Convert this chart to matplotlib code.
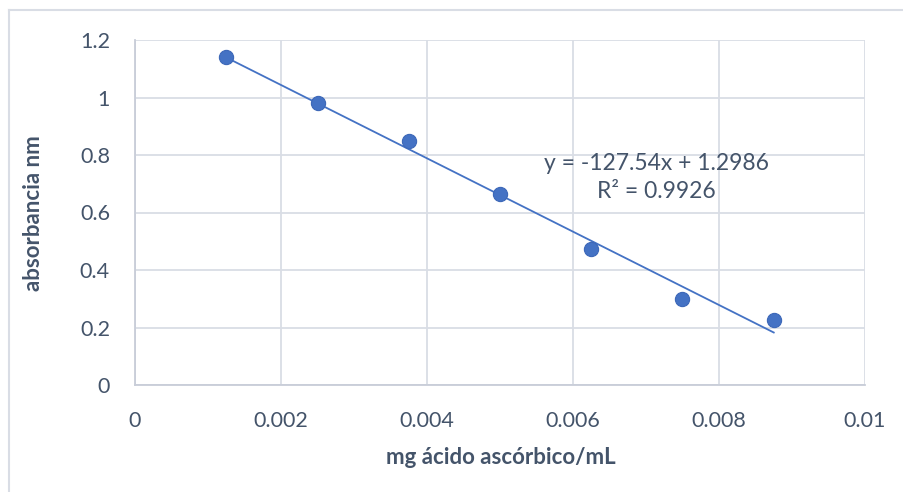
import matplotlib.pyplot as plt
import numpy as np
from matplotlib.lines import Line2D

# Data
concentration = [0.00125, 0.0025, 0.00375, 0.005, 0.00625, 0.0075, 0.00875]
absorbance = [1.141, 0.981, 0.849, 0.664, 0.473, 0.299, 0.226]

# Trendline as printed on the chart
slope = -127.54
intercept = 1.2986
r_squared = 0.9926

x_ticks = [0, 0.002, 0.004, 0.006, 0.008, 0.01]
x_tick_labels = ['0', '0.002', '0.004', '0.006', '0.008', '0.01']
y_ticks = [0, 0.2, 0.4, 0.6, 0.8, 1, 1.2]
y_tick_labels = ['0', '0.2', '0.4', '0.6', '0.8', '1', '1.2']

text_color = '#44546a'
grid_color = '#d9dde5'
marker_color = '#4472c4'

plt.rcParams['font.family'] = ['Lato', 'DejaVu Sans']

fig = plt.figure(figsize=(9.04, 4.92), dpi=100)
ax = fig.add_axes([135 / 904, 1 - 385 / 492, 730 / 904, 345 / 492])

# Outer chart frame (only top and left edges visible)
fig.add_artist(Line2D([9 / 904, 1], [1 - 10 / 492, 1 - 10 / 492],
                      transform=fig.transFigure, color=grid_color, lw=1.5))
fig.add_artist(Line2D([9 / 904, 9 / 904], [0, 1 - 10 / 492],
                      transform=fig.transFigure, color=grid_color, lw=1.5))

# Trendline over the data range
x_fit = np.array([min(concentration), max(concentration)])
ax.plot(x_fit, slope * x_fit + intercept, color=marker_color, lw=1.3, zorder=2)

ax.scatter(concentration, absorbance, s=105, color=marker_color,
           edgecolors='#3d68b8', linewidths=0.8, zorder=3)

ax.set_xlim(0, 0.01)
ax.set_ylim(0, 1.2)
ax.set_xticks(x_ticks)
ax.set_xticklabels(x_tick_labels)
ax.set_yticks(y_ticks)
ax.set_yticklabels(y_tick_labels)
ax.tick_params(length=0, labelsize=15.5, colors=text_color)
ax.tick_params(axis='y', pad=18)
ax.tick_params(axis='x', pad=19)

ax.grid(True, color=grid_color, lw=1.3)
ax.set_axisbelow(True)
for side in ['top', 'right']:
    ax.spines[side].set_visible(False)
for side in ['left', 'bottom']:
    ax.spines[side].set_color('#c8cdd8')
    ax.spines[side].set_linewidth(1.3)

ax.set_xlabel('mg ácido ascórbico/mL', fontsize=16, fontweight='bold',
              color=text_color, va='center')
ax.xaxis.set_label_coords(0.5007, -0.209)
ax.set_ylabel('absorbancia nm', fontsize=16, fontweight='bold',
              color=text_color, va='center')
ax.yaxis.set_label_coords(-0.1397, 0.497)

ax.text(0.007137, 0.722, f'y = {slope}x + {intercept}\nR² = {r_squared}',
        fontsize=16.5, color=text_color, ha='center', va='center',
        linespacing=1.45)

fig.savefig('out.png', dpi=100)
